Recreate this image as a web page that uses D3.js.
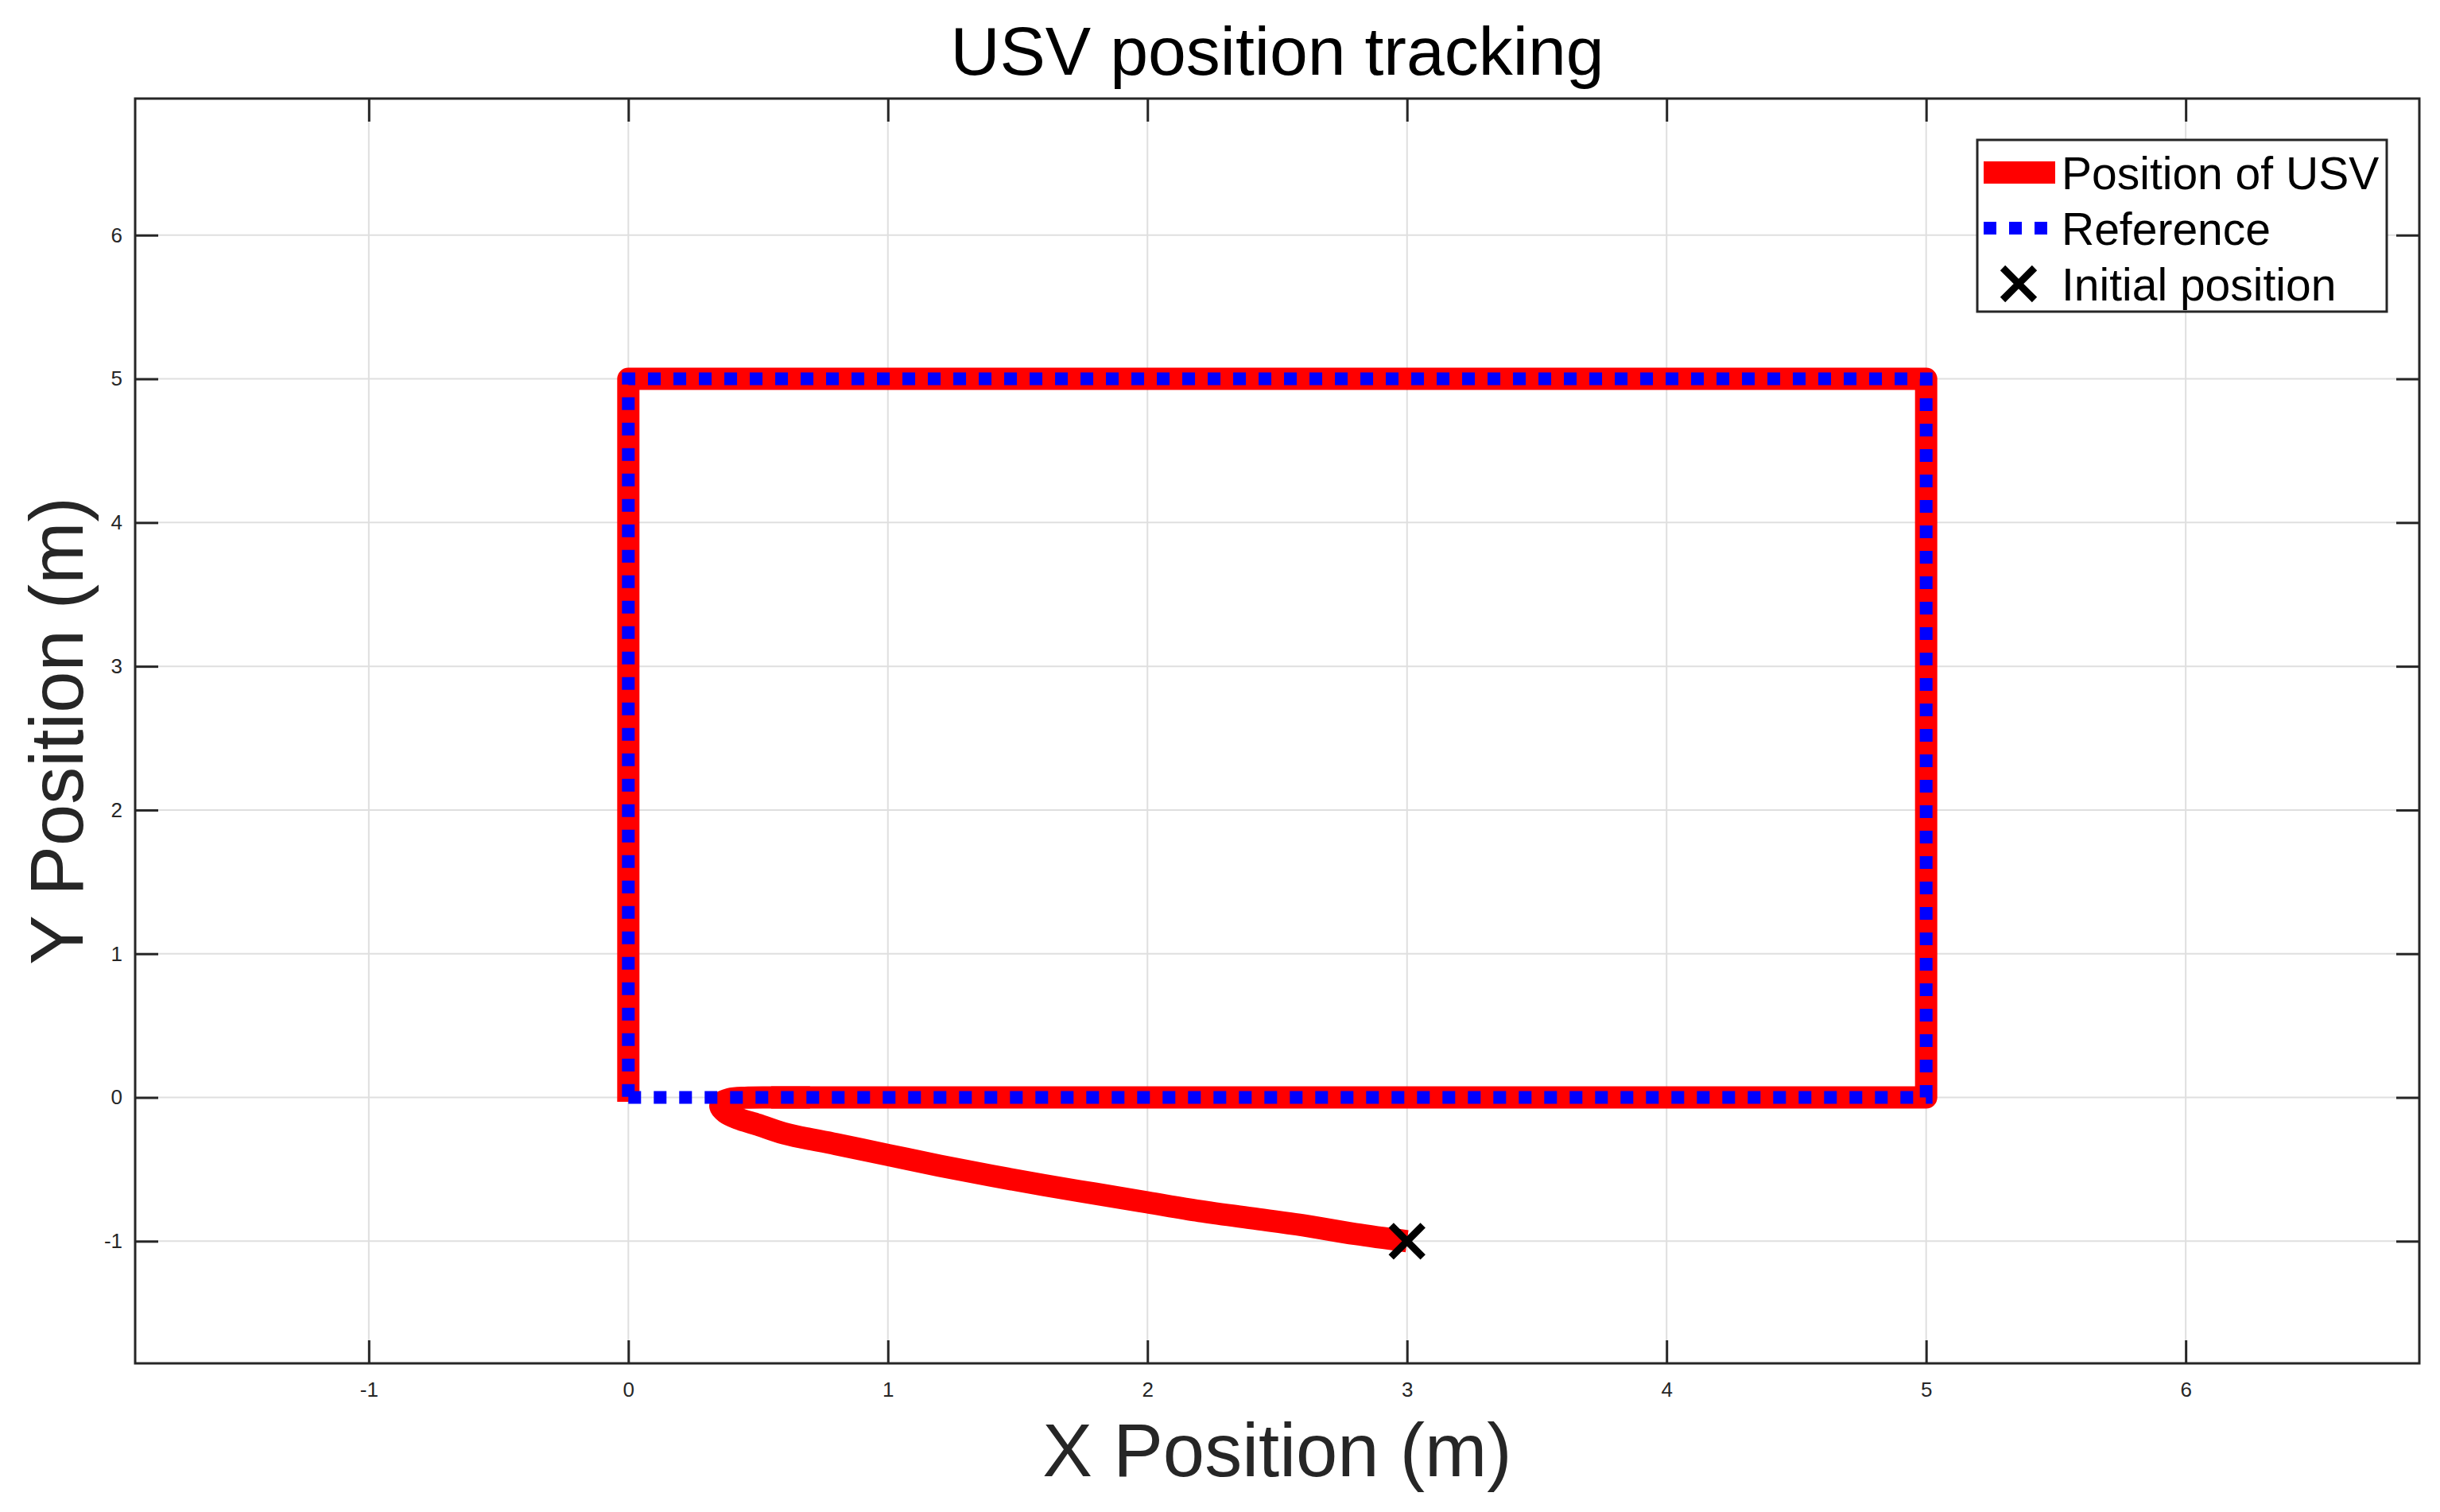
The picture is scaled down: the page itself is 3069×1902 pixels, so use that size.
<!doctype html>
<html lang="en">
<head>
<meta charset="utf-8">
<title>USV position tracking</title>
<style>
  body { margin: 0; background: #fff; }
  text { font-family: Helvetica, Arial, "Liberation Sans", sans-serif; }
</style>
<script src="https://d3js.org/d3.v7.min.js"></script>
</head>
<body>
<div id="chart"></div>
<script>
// tick values
var xTicks = [-1, 0, 1, 2, 3, 4, 5, 6];
var yTicks = [-1, 0, 1, 2, 3, 4, 5, 6];

// reference rectangle
var refX = [0, 5, 5, 0, 0];
var refY = [0, 0, 5, 5, 0];

// USV track: approach curve from the initial position ...
var approachX = [3, 2.8, 2.6, 2.4, 2.2, 2.0, 1.8, 1.6, 1.4, 1.2, 1.0, 0.8, 0.6, 0.5, 0.42, 0.375, 0.355, 0.36, 0.39, 0.45, 0.55, 0.7];
var approachY = [-1, -0.95, -0.89, -0.84, -0.79, -0.73, -0.67, -0.61, -0.545, -0.475, -0.4, -0.325, -0.25, -0.19, -0.145, -0.105, -0.065, -0.035, -0.012, -0.002, 0, 0];
// ... then following the rectangle
var trackX = [0.55, 5, 5, 0, 0];
var trackY = [0, 0, 5, 5, -0.03];

var startX = 3, startY = -1;

var legendLabels = ["Position of USV", "Reference", "Initial position"];

var W = 3069, H = 1902;
var margin = {top: 124, left: 170, right: 26, bottom: 187};
var width = W - margin.left - margin.right,
    height = H - margin.top - margin.bottom;

var x = d3.scaleLinear().domain([-1.9, 6.9]).range([0, width]);
var y = d3.scaleLinear().domain([-1.85, 6.95]).range([height, 0]);

var svg = d3.select("#chart").append("svg")
  .attr("width", W)
  .attr("height", H);

var g = svg.append("g")
  .attr("transform", "translate(" + margin.left + "," + margin.top + ")");

// grid
g.append("g").selectAll("line")
  .data(xTicks).enter().append("line")
  .attr("x1", d => x(d)).attr("x2", d => x(d))
  .attr("y1", 0).attr("y2", height)
  .attr("stroke", "#dfdfdf").attr("stroke-width", 2);
g.append("g").selectAll("line")
  .data(yTicks).enter().append("line")
  .attr("y1", d => y(d)).attr("y2", d => y(d))
  .attr("x1", 0).attr("x2", width)
  .attr("stroke", "#dfdfdf").attr("stroke-width", 2);

// axes (inward ticks on all four sides)
var tickLen = 29;
var fmt = d => String(d);   // plain hyphen minus like the original
function styleAxis(sel) {
  sel.select(".domain").remove();
  sel.selectAll(".tick line").attr("stroke", "#262626").attr("stroke-width", 3);
  sel.selectAll(".tick text")
    .attr("font-size", 26)
    .attr("fill", "#262626")
    .attr("font-family", "Helvetica, Arial, 'Liberation Sans', sans-serif");
}

g.append("g")
  .attr("transform", "translate(0," + height + ")")
  .call(d3.axisBottom(x).tickValues(xTicks).tickSizeInner(-tickLen).tickSizeOuter(0).tickPadding(24).tickFormat(fmt))
  .call(styleAxis);
g.append("g")
  .call(d3.axisTop(x).tickValues(xTicks).tickSizeInner(-tickLen).tickSizeOuter(0).tickFormat(""))
  .call(styleAxis);
g.append("g")
  .call(d3.axisLeft(y).tickValues(yTicks).tickSizeInner(-tickLen).tickSizeOuter(0).tickPadding(16).tickFormat(fmt))
  .call(styleAxis);
g.append("g")
  .attr("transform", "translate(" + width + ",0)")
  .call(d3.axisRight(y).tickValues(yTicks).tickSizeInner(-tickLen).tickSizeOuter(0).tickFormat(""))
  .call(styleAxis);

// box
g.append("rect")
  .attr("x", 0).attr("y", 0)
  .attr("width", width).attr("height", height)
  .attr("fill", "none")
  .attr("stroke", "#262626")
  .attr("stroke-width", 3);

var line = d3.line().x(d => x(d[0])).y(d => y(d[1]));
var smooth = d3.line().x(d => x(d[0])).y(d => y(d[1])).curve(d3.curveCatmullRom.alpha(0.5));

// USV track
g.append("path")
  .datum(approachX.map((v, i) => [v, approachY[i]]))
  .attr("d", smooth)
  .attr("fill", "none")
  .attr("stroke", "#ff0000")
  .attr("stroke-width", 28)
  .attr("stroke-linejoin", "round");
g.append("path")
  .datum(trackX.map((v, i) => [v, trackY[i]]))
  .attr("d", line)
  .attr("fill", "none")
  .attr("stroke", "#ff0000")
  .attr("stroke-width", 28)
  .attr("stroke-linejoin", "round")
  .attr("stroke-linecap", "butt");

// reference
g.append("path")
  .datum(refX.map((v, i) => [v, refY[i]]))
  .attr("d", line)
  .attr("fill", "none")
  .attr("stroke", "#0000ff")
  .attr("stroke-width", 16)
  .attr("stroke-dasharray", "16,16");

// initial position marker
function drawX(sel, cx, cy, r, sw) {
  sel.append("path")
    .attr("d", "M" + (cx - r) + "," + (cy - r) + "L" + (cx + r) + "," + (cy + r) +
               "M" + (cx - r) + "," + (cy + r) + "L" + (cx + r) + "," + (cy - r))
    .attr("stroke", "#000")
    .attr("stroke-width", sw)
    .attr("fill", "none");
}
drawX(g, x(startX), y(startY), 20, 9);

// title
svg.append("text")
  .attr("x", margin.left + width / 2)
  .attr("y", 94)
  .attr("text-anchor", "middle")
  .attr("font-size", 86)
  .attr("fill", "#000")
  .text("USV position tracking");

// axis labels
svg.append("text")
  .attr("x", margin.left + width / 2)
  .attr("y", 1857)
  .attr("text-anchor", "middle")
  .attr("font-size", 94)
  .attr("fill", "#262626")
  .text("X Position (m)");

svg.append("text")
  .attr("transform", "translate(104," + (margin.top + height / 2) + ") rotate(-90)")
  .attr("text-anchor", "middle")
  .attr("font-size", 94)
  .attr("fill", "#262626")
  .text("Y Position (m)");

// legend
var leg = svg.append("g");
leg.append("rect")
  .attr("x", 2487).attr("y", 176)
  .attr("width", 515).attr("height", 216)
  .attr("fill", "#fff")
  .attr("stroke", "#262626")
  .attr("stroke-width", 3);

var rowY = [217, 287, 357];
leg.append("line")
  .attr("x1", 2495).attr("x2", 2585)
  .attr("y1", rowY[0]).attr("y2", rowY[0])
  .attr("stroke", "#ff0000").attr("stroke-width", 28);
leg.append("line")
  .attr("x1", 2495).attr("x2", 2583)
  .attr("y1", rowY[1]).attr("y2", rowY[1])
  .attr("stroke", "#0000ff").attr("stroke-width", 16)
  .attr("stroke-dasharray", "16,16");
drawX(leg, 2539, rowY[2], 20, 9);

leg.selectAll("text.lab")
  .data(legendLabels).enter().append("text")
  .attr("class", "lab")
  .attr("x", 2593)
  .attr("y", (d, i) => rowY[i])
  .attr("dy", "0.36em")
  .attr("font-size", 57)
  .attr("fill", "#000")
  .text(d => d);
</script>
</body>
</html>
